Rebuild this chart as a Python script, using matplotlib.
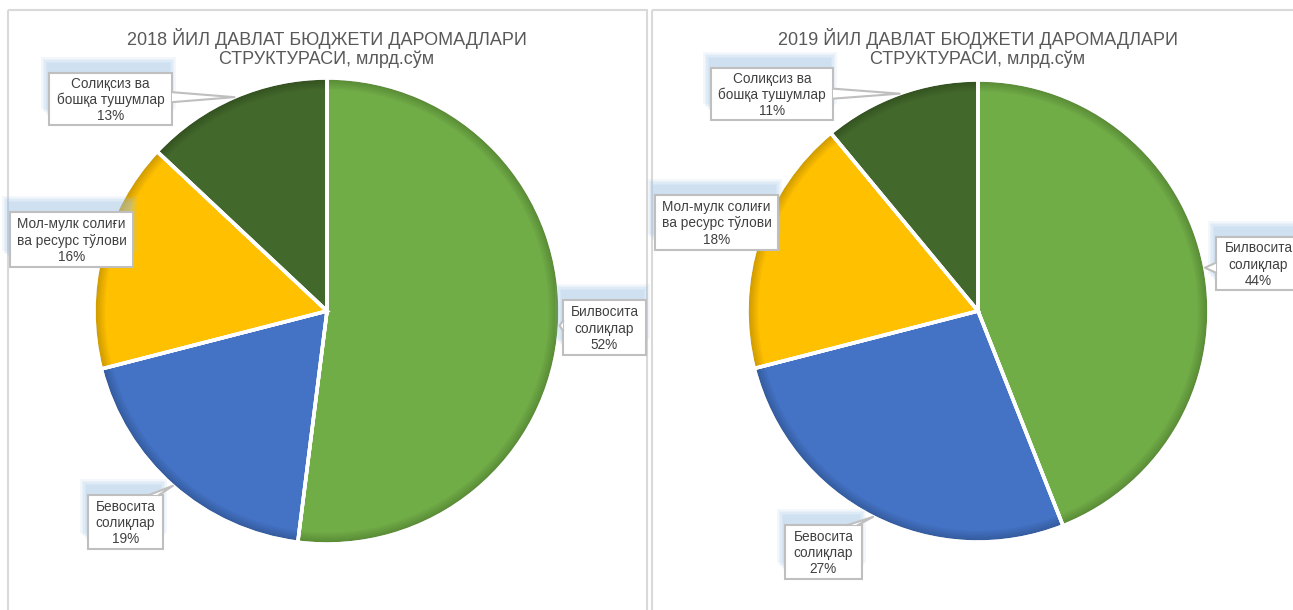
"""Two pie charts: state budget revenue structure, 2018 vs 2019."""
import matplotlib
matplotlib.use("Agg")
import matplotlib.pyplot as plt
from matplotlib.patches import Rectangle, Polygon, Wedge
import numpy as np

plt.rcParams['font.family'] = ['Liberation Sans', 'DejaVu Sans']

years = ['2018', '2019']
categories = ['Билвосита\nсолиқлар', 'Бевосита\nсолиқлар',
              'Мол-мулк солиғи\nва ресурс тўлови', 'Солиқсиз ва\nбошқа тушумлар']
share_2018 = [52, 19, 16, 13]
share_2019 = [44, 27, 18, 11]
title_tpl = '{} ЙИЛ ДАВЛАТ БЮДЖЕТИ ДАРОМАДЛАРИ\nСТРУКТУРАСИ, млрд.сўм'

colors = ['#70AD47', '#4472C4', '#FFC000', '#43682B']

W, H = 1293, 610
# pie centre / radius and panel frame, in image pixels
pies = [dict(cx=327, cy=311, r=233, frame=(8, 10, 639, 620)),
        dict(cx=978, cy=311, r=231, frame=(652, 10, 660, 620))]
# label boxes (left, top, width, height) per slice
boxes = [
    [(563, 300, 83, 55), (88, 495, 75, 54), (10, 212, 123, 55), (49, 73, 123, 52)],
    [(1216, 237, 85, 53), (785, 525, 77, 54), (655, 195, 123, 55), (711, 68, 122, 52)],
]

fig = plt.figure(figsize=(W / 100, H / 100), dpi=100)
bg = fig.add_axes([0, 0, 1, 1])
bg.set_xlim(0, W)
bg.set_ylim(H, 0)
bg.axis('off')

pie_axes = []
for i, (year, vals) in enumerate(zip(years, [share_2018, share_2019])):
    p = pies[i]
    fx, fy, fw, fh = p['frame']
    bg.add_patch(Rectangle((fx, fy), fw, fh, fill=False, ec='#D9D9D9', lw=1.5))
    ax = fig.add_axes([(p['cx'] - p['r']) / W, (H - p['cy'] - p['r']) / H,
                       2 * p['r'] / W, 2 * p['r'] / H])
    wedges, _ = ax.pie(vals, colors=colors, startangle=90, counterclock=False,
                       wedgeprops=dict(edgecolor='white', linewidth=2.5))
    # faint inner shadow near the rim, then white separators again on top
    for s in range(6):
        ax.add_patch(Wedge((0, 0), 1, 0, 360, width=0.008 * (s + 1),
                           fc='black', ec='none', alpha=0.035))
    for w in wedges:
        ax.add_patch(Wedge((0, 0), 1, w.theta1, w.theta2, fill=False,
                           ec='white', lw=2.5))
    ax.set_xlim(-1, 1)
    ax.set_ylim(-1, 1)
    pie_axes.append((ax, wedges))

top = fig.add_axes([0, 0, 1, 1])
top.set_xlim(0, W)
top.set_ylim(H, 0)
top.patch.set_alpha(0)
top.axis('off')
inv = top.transData.inverted()

for i, (year, vals) in enumerate(zip(years, [share_2018, share_2019])):
    p = pies[i]
    ax, wedges = pie_axes[i]
    top.text(p['cx'], 48, title_tpl.format(year), ha='center', va='center',
             fontsize=13, color='#595959', linespacing=1.15)
    for k, w in enumerate(wedges):
        ang = np.deg2rad((w.theta1 + w.theta2) / 2)
        tx, ty = inv.transform(ax.transData.transform((np.cos(ang), np.sin(ang))))
        bx, by, bw, bh = boxes[i][k]
        # soft blue glow, mostly above the box
        for g in range(5):
            e = g * 1.4
            top.add_patch(Rectangle((bx - 2 - e, by - 10 - e), bw + 2 * e, bh,
                                    fc='#9DC3E6', ec='none', alpha=0.12))
        top.add_patch(Rectangle((bx, by), bw, bh, fc='white', ec='#BFBFBF', lw=1.5))
        inside = bx <= tx <= bx + bw and by <= ty <= by + bh
        if not inside:
            if ty < by or ty > by + bh:
                ey = by if ty < by else by + bh
                mx = min(max(tx, bx + 9), bx + bw - 9)
                b1, b2 = (mx - 5, ey), (mx + 5, ey)
            else:
                ex = bx if tx < bx else bx + bw
                my = min(max(ty, by + 9), by + bh - 9)
                b1, b2 = (ex, my - 5), (ex, my + 5)
            top.add_patch(Polygon([b1, b2, (tx, ty)], closed=True, fc='white', ec='none'))
            top.plot([b1[0], tx, b2[0]], [b1[1], ty, b2[1]], color='#BFBFBF', lw=1.5)
        label = f"{categories[k]}\n{vals[k]}%"
        top.text(bx + bw / 2, by + bh / 2 + 1, label, ha='center', va='center',
                 fontsize=9.8, color='#404040', linespacing=1.2)

fig.savefig('out.png', dpi=100)
